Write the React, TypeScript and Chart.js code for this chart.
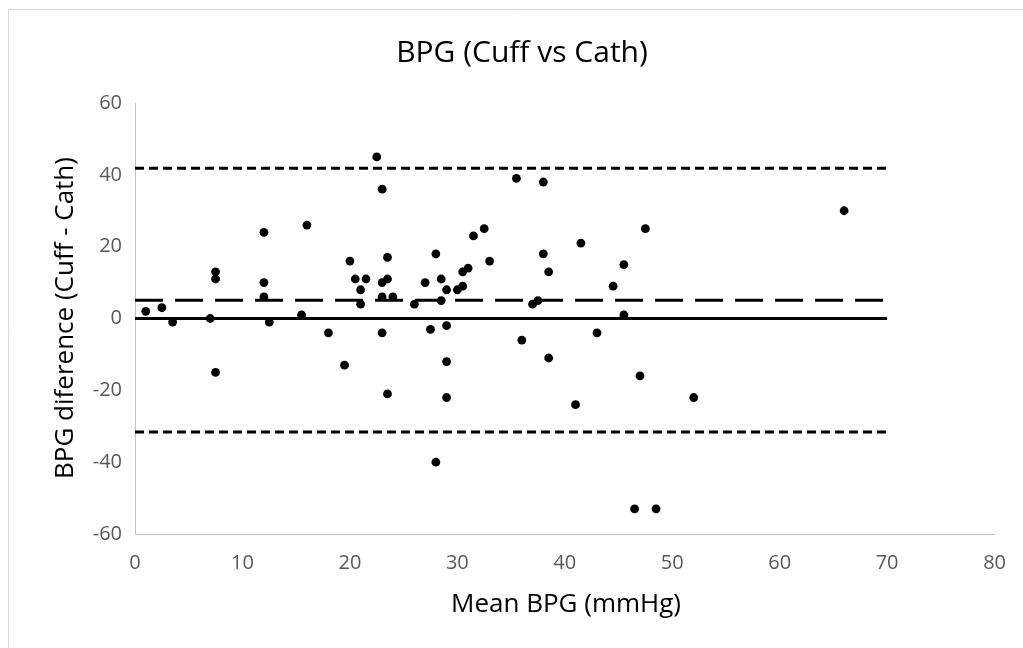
import React, { useEffect, useRef } from "react";
import { Chart, registerables } from "chart.js";

Chart.register(...registerables);

// Bland-Altman data: mean BPG (x) and BPG difference Cuff - Cath (y)
const meanBPG = [
  1, 2.5, 3.5, 7, 7.5, 7.5, 7.5, 12, 12, 12, 12.5, 15.5, 16, 18, 19.5, 20, 20.5, 21, 21, 21.5,
  22.5, 23, 23, 23, 23, 23.5, 23.5, 23.5, 24, 26, 27, 27.5, 28, 28, 28.5, 28.5, 29, 29, 29, 29,
  30, 30.5, 30.5, 31, 31.5, 32.5, 33, 35.5, 36, 37, 37.5, 38, 38, 38.5, 38.5, 41, 41.5, 43, 44.5,
  45.5, 45.5, 46.5, 47, 47.5, 48.5, 52, 66,
];
const bpgDiff = [
  2, 3, -1, 0, 13, 11, -15, 24, 10, 6, -1, 1, 26, -4, -13, 16, 11, 8, 4, 11,
  45, 36, 10, 6, -4, 17, 11, -21, 6, 4, 10, -3, 18, -40, 11, 5, 8, -2, -12, -22,
  8, 9, 13, 14, 23, 25, 16, 39, -6, 4, 5, 38, 18, 13, -11, -24, 21, -4, 9,
  15, 1, -53, -16, 25, -53, -22, 30,
];

// Reference lines
const lineRange = [0, 70];
const zeroLine = 0;
const meanDiff = 5.1;
const upperLoA = 41.8;
const lowerLoA = -31.6;

// Axis ranges / ticks
const xRange = [0, 80];
const xStep = 10;
const yRange = [-60, 60];
const yStep = 20;

const chartTitle = "BPG (Cuff vs Cath)";
const xTitle = "Mean BPG (mmHg)";
const yTitle = "BPG diference (Cuff - Cath)";

const FONT = "'Open Sans', 'Noto Sans', sans-serif";

const decorPlugin = {
  id: "decor",
  afterDraw(chart: any) {
    const ctx = chart.ctx as CanvasRenderingContext2D;
    ctx.save();
    ctx.strokeStyle = "#d9d9d9";
    ctx.lineWidth = 1;
    ctx.beginPath();
    ctx.moveTo(8.5, 648);
    ctx.lineTo(8.5, 9.5);
    ctx.lineTo(1023, 9.5);
    ctx.stroke();

    ctx.fillStyle = "#000000";
    ctx.textAlign = "center";
    ctx.textBaseline = "alphabetic";
    ctx.font = `30px ${FONT}`;
    ctx.fillText(chartTitle, 522, 62);
    ctx.font = `26px ${FONT}`;
    ctx.fillText(xTitle, 566, 612);
    ctx.translate(73, 318);
    ctx.rotate(-Math.PI / 2);
    ctx.fillText(yTitle, 0, 0);
    ctx.restore();
  },
};

function hLine(y: number, dash: number[]) {
  return {
    data: lineRange.map((x) => ({ x, y })),
    showLine: true,
    borderColor: "#000000",
    borderWidth: 3,
    borderDash: dash,
    pointRadius: 0,
    pointHoverRadius: 0,
    fill: false,
  };
}

export default function App() {
  const canvasRef = useRef<HTMLCanvasElement | null>(null);

  useEffect(() => {
    if (!canvasRef.current) return;
    const tickFont = { family: FONT, size: 20 };
    const chart = new Chart(canvasRef.current, {
      type: "scatter",
      data: {
        datasets: [
          {
            data: meanBPG.map((x, i) => ({ x, y: bpgDiff[i] })),
            backgroundColor: "#000000",
            borderColor: "#000000",
            pointRadius: 4.4,
            pointBorderWidth: 0,
            showLine: false,
          },
          hLine(zeroLine, []),
          hLine(meanDiff, [28, 12]),
          hLine(upperLoA, [9, 5]),
          hLine(lowerLoA, [9, 5]),
        ] as any,
      },
      options: {
        animation: false,
        responsive: false,
        maintainAspectRatio: false,
        devicePixelRatio: 1,
        layout: { padding: { top: 103, right: 27, left: 0, bottom: 0 } },
        plugins: {
          legend: { display: false },
          title: { display: false },
          tooltip: { enabled: false },
        },
        scales: {
          x: {
            type: "linear",
            min: xRange[0],
            max: xRange[1],
            ticks: { stepSize: xStep, color: "#595959", font: tickFont, padding: 17, maxRotation: 0 },
            grid: { display: false, drawTicks: false },
            border: { display: true, color: "#bfbfbf", width: 1 },
            afterFit(s: any) {
              s.height = 114;
            },
          },
          y: {
            type: "linear",
            min: yRange[0],
            max: yRange[1],
            ticks: { stepSize: yStep, color: "#595959", font: tickFont, padding: 13 },
            grid: { display: false, drawTicks: false },
            border: { display: true, color: "#bfbfbf", width: 1 },
            afterFit(s: any) {
              s.width = 135;
            },
          },
        },
      } as any,
      plugins: [decorPlugin],
    });
    return () => chart.destroy();
  }, []);

  return (
    <div style={{ position: "fixed", left: 0, top: 0, width: 1023, height: 648, background: "#ffffff" }}>
      <canvas ref={canvasRef} width={1023} height={648} style={{ display: "block" }} />
    </div>
  );
}
